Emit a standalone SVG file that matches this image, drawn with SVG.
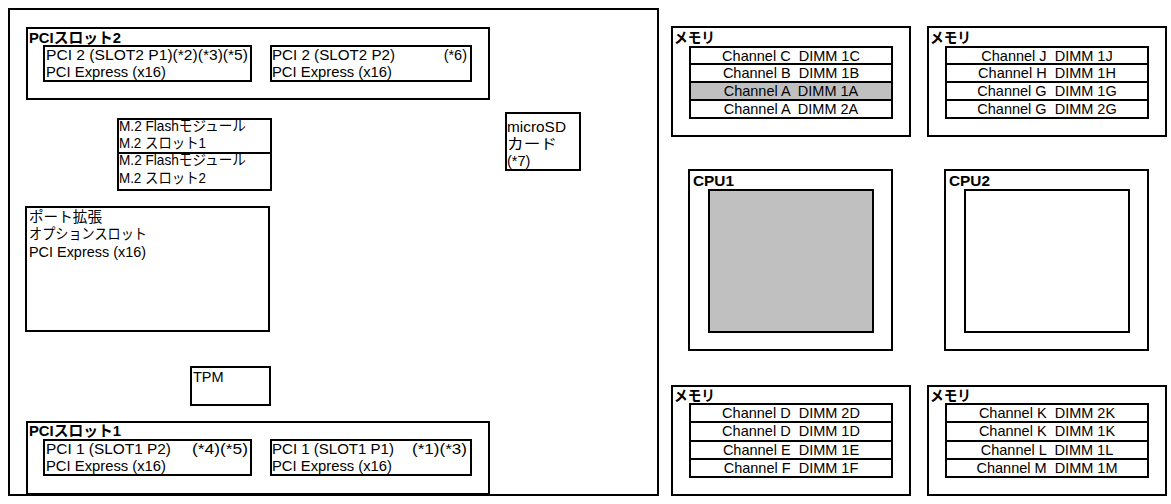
<svg xmlns="http://www.w3.org/2000/svg" width="1171" height="504" viewBox="0 0 1171 504">
<style>
.b{fill:#fff;stroke:#000;stroke-width:2}
.g{fill:#c0c0c0;stroke:#000;stroke-width:2}
.n{fill:none;stroke:#000;stroke-width:2}
text{font-family:"Liberation Sans","Noto Sans CJK JP",sans-serif;font-size:14.5px;fill:#000}
.t{font-weight:bold;font-size:15px}
.c{text-anchor:middle;white-space:pre;font-size:14.5px}
.r{text-anchor:end}
</style>
<rect width="1171" height="504" fill="#fff"/>
<g id="board"><rect class="n" x="9" y="9" width="649" height="486"/></g>
<g id="pci-slot2">
<rect class="b" x="27" y="28" width="462" height="71"/>
<text class="t" x="29" y="43" textLength="92" lengthAdjust="spacingAndGlyphs">PCIスロット2</text>
<rect class="b" x="44" y="46" width="207" height="35"/>
<text x="46" y="60" textLength="202" lengthAdjust="spacingAndGlyphs">PCI 2 (SLOT2 P1)(*2)(*3)(*5)</text>
<text x="46" y="77" textLength="120" lengthAdjust="spacingAndGlyphs">PCI Express (x16)</text>
<rect class="b" x="271" y="46" width="200" height="35"/>
<text x="272" y="60" textLength="123" lengthAdjust="spacingAndGlyphs">PCI 2 (SLOT2 P2)</text>
<text class="r" x="467" y="60">(*6)</text>
<text x="272" y="77" textLength="120" lengthAdjust="spacingAndGlyphs">PCI Express (x16)</text>
</g>
<g id="m2">
<rect class="b" x="118" y="119" width="153" height="71"/>
<line class="n" x1="118" y1="153" x2="271" y2="153"/>
<text x="119" y="131" textLength="127" lengthAdjust="spacingAndGlyphs">M.2 Flashモジュール</text>
<text x="119" y="148" textLength="87" lengthAdjust="spacingAndGlyphs">M.2 スロット1</text>
<text x="119" y="165" textLength="127" lengthAdjust="spacingAndGlyphs">M.2 Flashモジュール</text>
<text x="119" y="183" textLength="87" lengthAdjust="spacingAndGlyphs">M.2 スロット2</text>
</g>
<g id="microsd">
<rect class="b" x="506" y="113" width="74" height="57"/>
<text x="507" y="132" textLength="59" lengthAdjust="spacingAndGlyphs">microSD</text>
<text x="507" y="149" textLength="50" lengthAdjust="spacingAndGlyphs">カード</text>
<text x="507" y="166">(*7)</text>
</g>
<g id="port">
<rect class="b" x="26" y="207" width="243" height="124"/>
<text x="29" y="222" textLength="73" lengthAdjust="spacingAndGlyphs">ポート拡張</text>
<text x="29" y="239" textLength="118" lengthAdjust="spacingAndGlyphs">オプションスロット</text>
<text x="29" y="257" textLength="117" lengthAdjust="spacingAndGlyphs">PCI Express (x16)</text>
</g>
<g id="tpm">
<rect class="b" x="191" y="367" width="79" height="38"/>
<text x="193" y="382">TPM</text>
</g>
<g id="pci-slot1">
<rect class="b" x="27" y="422" width="462" height="72"/>
<text class="t" x="29" y="436" textLength="92" lengthAdjust="spacingAndGlyphs">PCIスロット1</text>
<rect class="b" x="44" y="440" width="207" height="35"/>
<text x="46" y="454" textLength="125" lengthAdjust="spacingAndGlyphs">PCI 1 (SLOT1 P2)</text>
<text class="r" x="248" y="454" textLength="56" lengthAdjust="spacingAndGlyphs">(*4)(*5)</text>
<text x="46" y="471" textLength="120" lengthAdjust="spacingAndGlyphs">PCI Express (x16)</text>
<rect class="b" x="271" y="440" width="200" height="35"/>
<text x="272" y="454" textLength="122" lengthAdjust="spacingAndGlyphs">PCI 1 (SLOT1 P1)</text>
<text class="r" x="467" y="454" textLength="55" lengthAdjust="spacingAndGlyphs">(*1)(*3)</text>
<text x="272" y="471" textLength="120" lengthAdjust="spacingAndGlyphs">PCI Express (x16)</text>
</g>
<g id="mem1">
<rect class="b" x="672" y="27" width="238" height="109"/>
<text class="t" x="674" y="43" textLength="41" lengthAdjust="spacingAndGlyphs">メモリ</text>
<rect class="b" x="690" y="47" width="202" height="17"/>
<rect class="b" x="690" y="64" width="202" height="18"/>
<rect class="g" x="690" y="82" width="202" height="18"/>
<rect class="b" x="690" y="100" width="202" height="18"/>
<text class="c" x="791" y="61">Channel C  DIMM 1C</text>
<text class="c" x="791" y="78">Channel B  DIMM 1B</text>
<text class="c" x="791" y="96">Channel A  DIMM 1A</text>
<text class="c" x="791" y="114">Channel A  DIMM 2A</text>
</g>
<g id="mem2">
<rect class="b" x="928" y="27" width="238" height="109"/>
<text class="t" x="930" y="43" textLength="41" lengthAdjust="spacingAndGlyphs">メモリ</text>
<rect class="b" x="946" y="47" width="202" height="17"/>
<rect class="b" x="946" y="64" width="202" height="18"/>
<rect class="b" x="946" y="82" width="202" height="18"/>
<rect class="b" x="946" y="100" width="202" height="18"/>
<text class="c" x="1047" y="61">Channel J  DIMM 1J</text>
<text class="c" x="1047" y="78">Channel H  DIMM 1H</text>
<text class="c" x="1047" y="96">Channel G  DIMM 1G</text>
<text class="c" x="1047" y="114">Channel G  DIMM 2G</text>
</g>
<g id="cpu1">
<rect class="b" x="689" y="170" width="203" height="180"/>
<text class="t" x="693" y="186" textLength="41" lengthAdjust="spacingAndGlyphs">CPU1</text>
<rect class="g" x="709" y="190" width="164" height="142"/>
</g>
<g id="cpu2">
<rect class="b" x="945" y="170" width="203" height="180"/>
<text class="t" x="949" y="186" textLength="41" lengthAdjust="spacingAndGlyphs">CPU2</text>
<rect class="b" x="965" y="190" width="164" height="142"/>
</g>
<g id="mem3">
<rect class="b" x="672" y="386" width="238" height="109"/>
<text class="t" x="674" y="401" textLength="41" lengthAdjust="spacingAndGlyphs">メモリ</text>
<rect class="b" x="690" y="404" width="202" height="18"/>
<rect class="b" x="690" y="422" width="202" height="19"/>
<rect class="b" x="690" y="441" width="202" height="18"/>
<rect class="b" x="690" y="459" width="202" height="18"/>
<text class="c" x="791" y="418">Channel D  DIMM 2D</text>
<text class="c" x="791" y="436">Channel D  DIMM 1D</text>
<text class="c" x="791" y="455">Channel E  DIMM 1E</text>
<text class="c" x="791" y="473">Channel F  DIMM 1F</text>
</g>
<g id="mem4">
<rect class="b" x="928" y="386" width="238" height="109"/>
<text class="t" x="930" y="401" textLength="41" lengthAdjust="spacingAndGlyphs">メモリ</text>
<rect class="b" x="946" y="404" width="202" height="18"/>
<rect class="b" x="946" y="422" width="202" height="19"/>
<rect class="b" x="946" y="441" width="202" height="18"/>
<rect class="b" x="946" y="459" width="202" height="18"/>
<text class="c" x="1047" y="418">Channel K  DIMM 2K</text>
<text class="c" x="1047" y="436">Channel K  DIMM 1K</text>
<text class="c" x="1047" y="455">Channel L  DIMM 1L</text>
<text class="c" x="1047" y="473">Channel M  DIMM 1M</text>
</g>
<g id="connectors"></g>
</svg>
